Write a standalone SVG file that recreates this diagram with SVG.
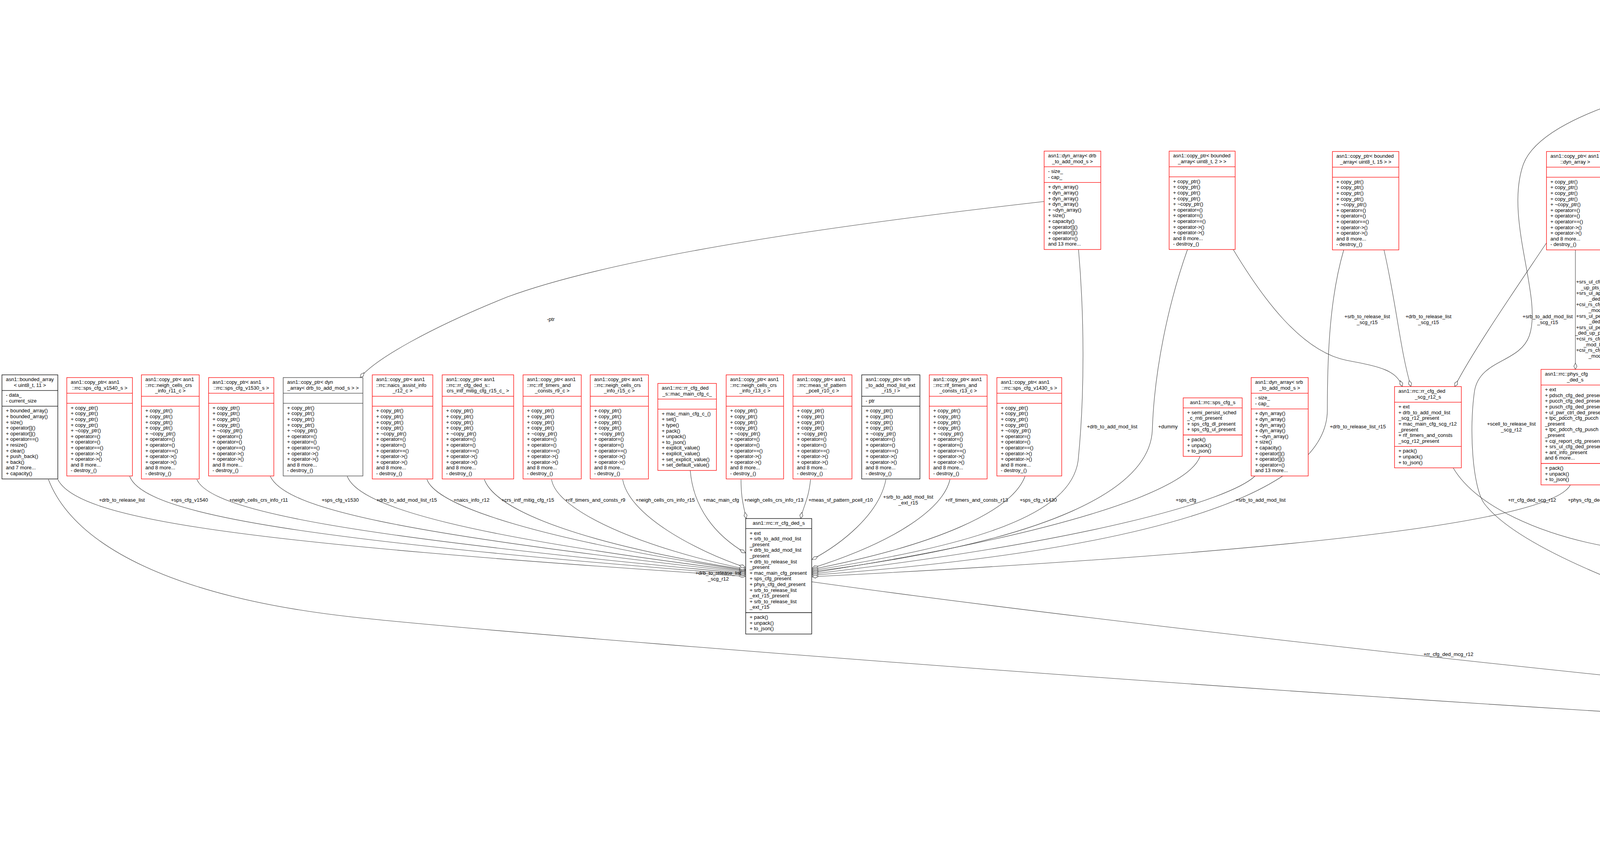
<svg xmlns="http://www.w3.org/2000/svg" width="7760" height="2159" viewBox="0 0 7760 2159">
<style>
text{font-family:"Liberation Sans",Arial,Helvetica,sans-serif;font-size:13px;fill:#000}
.nd rect{fill:#fff;stroke-width:1.3}
.nd path{fill:none;stroke-width:1.3}
.r rect,.r path{stroke:#f00}
.k rect,.k path{stroke:#000}
.g rect,.g path{stroke:#404040}
.f rect{fill:#bfbfbf}
.c{text-anchor:middle}
.e path{fill:none;stroke:#404040;stroke-width:1.1;marker-end:url(#d)}
.e text{text-anchor:middle}
.e text.s{text-anchor:start}
</style>
<defs>
<marker id="d" markerUnits="userSpaceOnUse" markerWidth="18" markerHeight="12" viewBox="0 0 18 12" refX="17" refY="6" orient="auto"><path d="M1,6 L9,2 L17,6 L9,10 Z" fill="#fff" stroke="#404040" stroke-width="1.1"/></marker>
</defs>
<rect width="7760" height="2159" fill="#fff"/>

<g id="edges" class="e">
<path d="M148,1228 C200,1330 600,1390 1908,1476"/>
<path d="M332,1220 C370,1320 800,1385 1908,1472"/>
<path d="M504,1228 C540,1310 900,1375 1908,1469"/>
<path d="M692,1220 C730,1300 1000,1365 1908,1466"/>
<path d="M889,1220 C920,1300 1200,1375 1908,1463"/>
<path d="M1093,1228 C1120,1300 1400,1385 1908,1461"/>
<path d="M1240,1228 C1270,1310 1500,1395 1908,1459"/>
<path d="M1412,1228 C1425,1310 1650,1405 1908,1457"/>
<path d="M1594,1228 C1610,1320 1780,1410 1908,1453"/>
<path d="M1767,1205 C1775,1300 1830,1370 1908,1416"/>
<path d="M1897,1228 C1897,1280 1905,1300 1910,1328"/>
<path d="M2075,1228 C2070,1280 2055,1300 2050,1328"/>
<path d="M2268,1228 C2250,1320 2150,1395 2079,1433"/>
<path d="M2432,1228 C2415,1300 2300,1385 2079,1455"/>
<path d="M2624,1220 C2590,1310 2400,1395 2079,1458"/>
<path d="M2761,639 C2775,800 2778,1000 2760,1180 C2740,1320 2500,1395 2079,1461"/>
<path d="M3040,639 C2990,780 2955,950 2950,1100 C2945,1250 2700,1385 2079,1464"/>
<path d="M3072,1169 C3040,1260 2700,1370 2079,1467"/>
<path d="M3213,1219 C3150,1280 2800,1385 2079,1470"/>
<path d="M3440,640 C3405,760 3398,900 3398,1050 C3398,1250 3000,1405 2079,1473"/>
<path d="M4020,1242 C3980,1320 3500,1405 2079,1477"/>
<path d="M2673,516 C2200,570 1600,650 1300,760 C1100,840 960,920 922,967"/>
<path d="M3157,639 C3230,760 3330,900 3448,923 C3540,940 3575,950 3590,990"/>
<path d="M3543,640 C3575,780 3585,900 3612,990"/>
<path d="M3959,622 C3880,740 3770,900 3724,990"/>
<path d="M4033,640 L4033,946"/>
<path d="M4770,570 C4600,680 4300,850 4121,955"/>
<path d="M3720,1198 C3780,1300 3950,1370 4115,1400 C4400,1440 4700,1462 4979,1470"/>
<path d="M4926,265 C4960,330 4975,400 4975,500 C4975,650 4950,800 4780,888 C4680,935 4300,900 4215,930 C4160,950 4150,1050 4160,1120 C4170,1230 4250,1320 4364,1347 C4500,1390 4800,1425 4979,1440"/>
<path d="M4106,539 C4400,680 4650,850 4720,950 C4780,1050 4760,1200 4800,1270 C4850,1350 4930,1400 4979,1425"/>
<path d="M4270,1227 C4300,1330 4500,1405 4979,1450"/>
<path d="M4442,1212 C4460,1320 4650,1410 4979,1457"/>
<path d="M4618,1227 C4640,1320 4780,1425 4979,1463"/>
<path d="M4982,1227 C4985,1270 4990,1300 4995,1327"/>
<path d="M5147,1227 C5140,1270 5128,1300 5123,1327"/>
<path d="M4867,640 C4880,780 4940,900 5008,923 C5100,945 5230,920 5270,960 C5310,1010 5295,1200 5267,1280 C5240,1360 5200,1395 5166,1410"/>
<path d="M5476,1220 C5430,1300 5300,1390 5166,1419"/>
<path d="M5695,1198 C5620,1290 5400,1395 5166,1427"/>
<path d="M5889,1220 C5800,1310 5500,1415 5166,1441"/>
<path d="M6063,1220 C5980,1300 5600,1435 5166,1465"/>
<path d="M2078,1490 C3000,1620 5200,1860 6385,1928"/>
<path d="M124,1228 C190,1400 450,1530 900,1580 C1350,1630 4500,1880 6385,1935"/>
<path d="M4784,145 C4300,190 3950,290 3900,420 C3850,560 3950,760 3915,860 C3890,930 3790,920 3775,1000 C3760,1100 3770,1250 3800,1290 C3900,1420 4300,1560 4680,1669 C5300,1830 6000,1900 6385,1915"/>
<path d="M5165,1507 C5600,1650 6000,1800 6385,1902"/>
<path d="M6091,1220 C6060,1380 6080,1650 6200,1760 C6260,1820 6320,1870 6385,1887"/>
<path d="M6489,1227 L6485,1724"/>
<path d="M6675,1220 C6670,1450 6630,1650 6581,1761"/>
<path d="M6364,1630 C6372,1670 6380,1700 6385,1724"/>
<path d="M6882,1551 C6800,1700 6700,1790 6581,1854"/>
<path d="M7060,1587 C6950,1760 6800,1850 6581,1898"/>
<path d="M7210,1625 C7100,1750 6850,1870 6581,1911"/>
<path d="M7214,1625 C7110,1757 6860,1880 6581,1916"/>
<path d="M7420,1602 C7250,1760 6900,1880 6581,1922"/>
<path d="M7626,1565 C7450,1720 7000,1870 6581,1935"/>
<path d="M6245,647 C6235,900 6250,1150 6285,1320"/>
<path d="M6410,1227 C6360,1245 6320,1270 6305,1320"/>
<path d="M6606,1220 C6530,1270 6470,1300 6435,1334"/>
<path d="M4855,272 L4855,388"/>
<path d="M6086,691 L6111,968"/>
<path d="M6225,647 C6190,850 6150,920 6073,937 C5900,945 5700,930 5632,968"/>
<path d="M6682,618 L6682,968"/>
<path d="M7024,1139 L7077,1364"/>
<path d="M7185,1198 L7143,1364"/>

<text x="312" y="1285">+drb_to_release_list</text>
<text x="485" y="1285">+sps_cfg_v1540</text>
<text x="662" y="1285">+neigh_cells_crs_info_r11</text>
<text x="871" y="1285">+sps_cfg_v1530</text>
<text x="1041" y="1285">+drb_to_add_mod_list_r15</text>
<text x="1207" y="1285">+naics_info_r12</text>
<text x="1351" y="1285">+crs_intf_mitig_cfg_r15</text>
<text x="1524" y="1285">+rlf_timers_and_consts_r9</text>
<text x="1703" y="1285">+neigh_cells_crs_info_r15</text>
<text x="1846" y="1285">+mac_main_cfg</text>
<text x="1981" y="1285">+neigh_cells_crs_info_r13</text>
<text x="2152" y="1285">+meas_sf_pattern_pcell_r10</text>
<text x="2325" y="1277"><tspan x="2325">+srb_to_add_mod_list</tspan><tspan x="2325" dy="14.6">_ext_r15</tspan></text>
<text x="2500" y="1285">+rlf_timers_and_consts_r13</text>
<text x="2658" y="1285">+sps_cfg_v1430</text>
<text x="2847" y="1097">+drb_to_add_mod_list</text>
<text x="2990" y="1097">+dummy</text>
<text x="3036" y="1285">+sps_cfg</text>
<text x="3227" y="1285">+srb_to_add_mod_list</text>
<text x="3476" y="1097">+drb_to_release_list_r15</text>
<text x="1839" y="1472"><tspan x="1839">+drb_to_release_list</tspan><tspan x="1839" dy="14.6">_scg_r12</tspan></text>
<text x="3500" y="815"><tspan x="3500">+srb_to_release_list</tspan><tspan x="3500" dy="14.6">_scg_r15</tspan></text>
<text x="3657" y="815"><tspan x="3657">+drb_to_release_list</tspan><tspan x="3657" dy="14.6">_scg_r15</tspan></text>
<text x="3962" y="815"><tspan x="3962">+srb_to_add_mod_list</tspan><tspan x="3962" dy="14.6">_scg_r15</tspan></text>
<text class="s" x="4035" y="726">+srs_ul_cfg_ded_ap</text>
<text x="4107" y="740.6">_up_pts_ext_list_r14</text>
<text class="s" x="4035" y="755.2">+srs_ul_aperiodic_cfg</text>
<text x="4107" y="769.8">_ded_list_r14</text>
<text class="s" x="4035" y="784.4">+csi_rs_cfg_nzp_to_add</text>
<text x="4107" y="799">_mod_list_r11</text>
<text class="s" x="4035" y="813.6">+srs_ul_periodic_cfg</text>
<text x="4107" y="828.2">_ded_list_r14</text>
<text class="s" x="4035" y="842.8">+srs_ul_periodic_cfg</text>
<text x="4107" y="857.4">_ded_up_pts_ext_list_r14</text>
<text class="s" x="4035" y="872">+csi_rs_cfg_nzp_to_add</text>
<text x="4107" y="886.6">_mod_list_ext_r13</text>
<text class="s" x="4035" y="901.2">+csi_rs_cfg_zp_to_add</text>
<text x="4107" y="915.8">_mod_list_r11</text>
<text x="4619" y="815"><tspan x="4619">+csi_rs_cfg_zp_to_release</tspan><tspan x="4619" dy="14.6">_list_r11</tspan></text>
<text x="5007" y="815"><tspan x="5007">+scell_to_release_list</tspan><tspan x="5007" dy="14.6">_scg_r12</tspan></text>
<text x="4868" y="308">-ptr</text>
<text x="6129" y="821">-data_</text>
<text x="6219" y="821">-ptr</text>
<text x="6704" y="821">-data_</text>
<text x="1410" y="822">-ptr</text>
<text x="3869" y="1090"><tspan x="3869">+scell_to_release_list</tspan><tspan x="3869" dy="14.6">_scg_r12</tspan></text>
<text x="3922" y="1285">+rr_cfg_ded_scg_r12</text>
<text x="4058" y="1285">+phys_cfg_ded</text>
<text x="4387" y="1277"><tspan x="4387">+pscell_to_add_mod</tspan><tspan x="4387" dy="14.6">_v1440</tspan></text>
<text x="4547" y="1285">+pscell_to_add_mod_r12</text>
<text x="4704" y="1277"><tspan x="4704">+tdm_pattern_cfg_ne</tspan><tspan x="4704" dy="14.6">_dc_r15</tspan></text>
<text x="3708" y="1680">+rr_cfg_ded_mcg_r12</text>
<text x="4846" y="1090"><tspan x="4846">+scell_to_add_mod_list</tspan><tspan x="4846" dy="14.6">_scg_ext_v1370</tspan></text>
<text x="5375" y="1090"><tspan x="5375">+scell_group_to_release</tspan><tspan x="5375" dy="14.6">_list_scg_r15</tspan></text>
<text x="5061" y="1277"><tspan x="5061">+scell_to_add_mod_list</tspan><tspan x="5061" dy="14.6">_scg_ext_r13</tspan></text>
<text x="5202" y="1277"><tspan x="5202">+scell_group_to_add</tspan><tspan x="5202" dy="14.6">_mod_list_scg_r15</tspan></text>
<text x="5486" y="1277"><tspan x="5486">+scell_to_release_list</tspan><tspan x="5486" dy="14.6">_scg_ext_r13</tspan></text>
<text x="5687" y="1285">+mob_ctrl_info_scg_r12</text>
<text x="5846" y="1285">+meas_cfg_sn_r15</text>
<text x="6006" y="1277"><tspan x="6006">+scell_to_add_mod_list</tspan><tspan x="6006" dy="14.6">_scg_r12</tspan></text>
<text x="5798" y="1680">+scg_radio_cfg_r12</text>
<text x="6178" y="1472"><tspan x="6178">+scell_to_add_mod_list</tspan><tspan x="6178" dy="14.6">_mcg_r12</tspan></text>
<text x="6336" y="1090"><tspan x="6336">+scell_to_release_list</tspan><tspan x="6336" dy="14.6">_scg_ext_r13</tspan></text>
<text x="6395" y="1277"><tspan x="6395">+meas_result_serv_cell</tspan><tspan x="6395" dy="14.6">_list_scg_ext_r13</tspan></text>
<text x="6602" y="1277"><tspan x="6602">+scell_to_add_mod_list</tspan><tspan x="6602" dy="14.6">_scg_ext_r13</tspan></text>
<text x="6560" y="1472"><tspan x="6560">+meas_result_serv_cell</tspan><tspan x="6560" dy="14.6">_list_scg_r12</tspan></text>
<text x="6740" y="1472"><tspan x="6740">+scell_to_add_mod_list</tspan><tspan x="6740" dy="14.6">_scg_r12</tspan></text>
<text x="6424" y="1680">+non_crit_ext</text>
<text x="6879" y="1680">+pwr_coordination_info_r12</text>
<text x="7069" y="1680">+meas_gap_cfg_r12</text>
<text x="7248" y="1666"><tspan x="7248">+mbms_interest_ind</tspan><tspan x="7248" dy="14.6">_r12</tspan><tspan x="7248" dy="14.6">+eutra_cap_info_r12</tspan></text>
<text x="7443" y="1674"><tspan x="7443">+drb_to_add_mod_list</tspan><tspan x="7443" dy="14.6">_scg_r12</tspan></text>
<text x="7644" y="1680">+scg_cfg_restrict_info_r12</text>
<text x="7071" y="1285">-c</text>
<text x="7187" y="1285">-type_</text>
</g>

<g id="n_ba11" class="nd k" transform="translate(5,960)"><rect width="143" height="266.6"/><path d="M0,40.2H143M0,80.4H143"/><text x="10" y="16">asn1::bounded_array</text><text class="c" x="71.5" y="30.6">&lt; uint8_t, 11 &gt;</text><text x="10" y="56.2"><tspan x="10">- data_</tspan><tspan x="10" dy="14.6">- current_size</tspan></text><text x="10" y="96.4"><tspan x="10">+ bounded_array()</tspan><tspan x="10" dy="14.6">+ bounded_array()</tspan><tspan x="10" dy="14.6">+ size()</tspan><tspan x="10" dy="14.6">+ operator[]()</tspan><tspan x="10" dy="14.6">+ operator[]()</tspan><tspan x="10" dy="14.6">+ operator==()</tspan><tspan x="10" dy="14.6">+ resize()</tspan><tspan x="10" dy="14.6">+ clear()</tspan><tspan x="10" dy="14.6">+ push_back()</tspan><tspan x="10" dy="14.6">+ back()</tspan><tspan x="10" dy="14.6">and 7 more...</tspan><tspan x="10" dy="14.6">+ capacity()</tspan></text></g>

<g id="n_cp_sps1540" class="nd r" transform="translate(171,967)"><rect width="168" height="252"/><path d="M0,40.2H168M0,65.8H168"/><text x="10" y="16">asn1::copy_ptr&lt; asn1</text><text class="c" x="84" y="30.6">::rrc::sps_cfg_v1540_s &gt;</text><text x="10" y="81.8"><tspan x="10">+ copy_ptr()</tspan><tspan x="10" dy="14.6">+ copy_ptr()</tspan><tspan x="10" dy="14.6">+ copy_ptr()</tspan><tspan x="10" dy="14.6">+ copy_ptr()</tspan><tspan x="10" dy="14.6">+ ~copy_ptr()</tspan><tspan x="10" dy="14.6">+ operator=()</tspan><tspan x="10" dy="14.6">+ operator=()</tspan><tspan x="10" dy="14.6">+ operator==()</tspan><tspan x="10" dy="14.6">+ operator-&gt;()</tspan><tspan x="10" dy="14.6">+ operator-&gt;()</tspan><tspan x="10" dy="14.6">and 8 more...</tspan><tspan x="10" dy="14.6">- destroy_()</tspan></text></g>

<g id="n_cp_neigh11" class="nd r" transform="translate(362,960)"><rect width="148" height="266.6"/><path d="M0,54.8H148M0,80.4H148"/><text x="10" y="16">asn1::copy_ptr&lt; asn1</text><text x="10" y="30.6">::rrc::neigh_cells_crs</text><text class="c" x="74" y="45.2">_info_r11_c &gt;</text><text x="10" y="96.4"><tspan x="10">+ copy_ptr()</tspan><tspan x="10" dy="14.6">+ copy_ptr()</tspan><tspan x="10" dy="14.6">+ copy_ptr()</tspan><tspan x="10" dy="14.6">+ copy_ptr()</tspan><tspan x="10" dy="14.6">+ ~copy_ptr()</tspan><tspan x="10" dy="14.6">+ operator=()</tspan><tspan x="10" dy="14.6">+ operator=()</tspan><tspan x="10" dy="14.6">+ operator==()</tspan><tspan x="10" dy="14.6">+ operator-&gt;()</tspan><tspan x="10" dy="14.6">+ operator-&gt;()</tspan><tspan x="10" dy="14.6">and 8 more...</tspan><tspan x="10" dy="14.6">- destroy_()</tspan></text></g>

<g id="n_cp_sps1530" class="nd r" transform="translate(534,967)"><rect width="167" height="252"/><path d="M0,40.2H167M0,65.8H167"/><text x="10" y="16">asn1::copy_ptr&lt; asn1</text><text class="c" x="83.5" y="30.6">::rrc::sps_cfg_v1530_s &gt;</text><text x="10" y="81.8"><tspan x="10">+ copy_ptr()</tspan><tspan x="10" dy="14.6">+ copy_ptr()</tspan><tspan x="10" dy="14.6">+ copy_ptr()</tspan><tspan x="10" dy="14.6">+ copy_ptr()</tspan><tspan x="10" dy="14.6">+ ~copy_ptr()</tspan><tspan x="10" dy="14.6">+ operator=()</tspan><tspan x="10" dy="14.6">+ operator=()</tspan><tspan x="10" dy="14.6">+ operator==()</tspan><tspan x="10" dy="14.6">+ operator-&gt;()</tspan><tspan x="10" dy="14.6">+ operator-&gt;()</tspan><tspan x="10" dy="14.6">and 8 more...</tspan><tspan x="10" dy="14.6">- destroy_()</tspan></text></g>

<g id="n_cp_dyn_drb" class="nd g" transform="translate(725,967)"><rect width="204" height="252"/><path d="M0,40.2H204M0,65.8H204"/><text x="10" y="16">asn1::copy_ptr&lt; dyn</text><text class="c" x="102" y="30.6">_array&lt; drb_to_add_mod_s &gt; &gt;</text><text x="10" y="81.8"><tspan x="10">+ copy_ptr()</tspan><tspan x="10" dy="14.6">+ copy_ptr()</tspan><tspan x="10" dy="14.6">+ copy_ptr()</tspan><tspan x="10" dy="14.6">+ copy_ptr()</tspan><tspan x="10" dy="14.6">+ ~copy_ptr()</tspan><tspan x="10" dy="14.6">+ operator=()</tspan><tspan x="10" dy="14.6">+ operator=()</tspan><tspan x="10" dy="14.6">+ operator==()</tspan><tspan x="10" dy="14.6">+ operator-&gt;()</tspan><tspan x="10" dy="14.6">+ operator-&gt;()</tspan><tspan x="10" dy="14.6">and 8 more...</tspan><tspan x="10" dy="14.6">- destroy_()</tspan></text></g>

<g id="n_cp_naics" class="nd r" transform="translate(953,960)"><rect width="155" height="266.6"/><path d="M0,54.8H155M0,80.4H155"/><text x="10" y="16">asn1::copy_ptr&lt; asn1</text><text x="10" y="30.6">::rrc::naics_assist_info</text><text class="c" x="77.5" y="45.2">_r12_c &gt;</text><text x="10" y="96.4"><tspan x="10">+ copy_ptr()</tspan><tspan x="10" dy="14.6">+ copy_ptr()</tspan><tspan x="10" dy="14.6">+ copy_ptr()</tspan><tspan x="10" dy="14.6">+ copy_ptr()</tspan><tspan x="10" dy="14.6">+ ~copy_ptr()</tspan><tspan x="10" dy="14.6">+ operator=()</tspan><tspan x="10" dy="14.6">+ operator=()</tspan><tspan x="10" dy="14.6">+ operator==()</tspan><tspan x="10" dy="14.6">+ operator-&gt;()</tspan><tspan x="10" dy="14.6">+ operator-&gt;()</tspan><tspan x="10" dy="14.6">and 8 more...</tspan><tspan x="10" dy="14.6">- destroy_()</tspan></text></g>

<g id="n_cp_crs" class="nd r" transform="translate(1132,960)"><rect width="183" height="266.6"/><path d="M0,54.8H183M0,80.4H183"/><text x="10" y="16">asn1::copy_ptr&lt; asn1</text><text x="10" y="30.6">::rrc::rr_cfg_ded_s::</text><text class="c" x="91.5" y="45.2">crs_intf_mitig_cfg_r15_c_ &gt;</text><text x="10" y="96.4"><tspan x="10">+ copy_ptr()</tspan><tspan x="10" dy="14.6">+ copy_ptr()</tspan><tspan x="10" dy="14.6">+ copy_ptr()</tspan><tspan x="10" dy="14.6">+ copy_ptr()</tspan><tspan x="10" dy="14.6">+ ~copy_ptr()</tspan><tspan x="10" dy="14.6">+ operator=()</tspan><tspan x="10" dy="14.6">+ operator=()</tspan><tspan x="10" dy="14.6">+ operator==()</tspan><tspan x="10" dy="14.6">+ operator-&gt;()</tspan><tspan x="10" dy="14.6">+ operator-&gt;()</tspan><tspan x="10" dy="14.6">and 8 more...</tspan><tspan x="10" dy="14.6">- destroy_()</tspan></text></g>

<g id="n_cp_rlf9" class="nd r" transform="translate(1339,960)"><rect width="149" height="266.6"/><path d="M0,54.8H149M0,80.4H149"/><text x="10" y="16">asn1::copy_ptr&lt; asn1</text><text x="10" y="30.6">::rrc::rlf_timers_and</text><text class="c" x="74.5" y="45.2">_consts_r9_c &gt;</text><text x="10" y="96.4"><tspan x="10">+ copy_ptr()</tspan><tspan x="10" dy="14.6">+ copy_ptr()</tspan><tspan x="10" dy="14.6">+ copy_ptr()</tspan><tspan x="10" dy="14.6">+ copy_ptr()</tspan><tspan x="10" dy="14.6">+ ~copy_ptr()</tspan><tspan x="10" dy="14.6">+ operator=()</tspan><tspan x="10" dy="14.6">+ operator=()</tspan><tspan x="10" dy="14.6">+ operator==()</tspan><tspan x="10" dy="14.6">+ operator-&gt;()</tspan><tspan x="10" dy="14.6">+ operator-&gt;()</tspan><tspan x="10" dy="14.6">and 8 more...</tspan><tspan x="10" dy="14.6">- destroy_()</tspan></text></g>

<g id="n_cp_neigh15" class="nd r" transform="translate(1511,960)"><rect width="149" height="266.6"/><path d="M0,54.8H149M0,80.4H149"/><text x="10" y="16">asn1::copy_ptr&lt; asn1</text><text x="10" y="30.6">::rrc::neigh_cells_crs</text><text class="c" x="74.5" y="45.2">_info_r15_c &gt;</text><text x="10" y="96.4"><tspan x="10">+ copy_ptr()</tspan><tspan x="10" dy="14.6">+ copy_ptr()</tspan><tspan x="10" dy="14.6">+ copy_ptr()</tspan><tspan x="10" dy="14.6">+ copy_ptr()</tspan><tspan x="10" dy="14.6">+ ~copy_ptr()</tspan><tspan x="10" dy="14.6">+ operator=()</tspan><tspan x="10" dy="14.6">+ operator=()</tspan><tspan x="10" dy="14.6">+ operator==()</tspan><tspan x="10" dy="14.6">+ operator-&gt;()</tspan><tspan x="10" dy="14.6">+ operator-&gt;()</tspan><tspan x="10" dy="14.6">and 8 more...</tspan><tspan x="10" dy="14.6">- destroy_()</tspan></text></g>

<g id="n_mac_main_cfg" class="nd r" transform="translate(1684,982)"><rect width="150" height="222.8"/><path d="M0,40.2H150M0,65.8H150"/><text x="10" y="16">asn1::rrc::rr_cfg_ded</text><text class="c" x="75" y="30.6">_s::mac_main_cfg_c_</text><text x="10" y="81.8"><tspan x="10">+ mac_main_cfg_c_()</tspan><tspan x="10" dy="14.6">+ set()</tspan><tspan x="10" dy="14.6">+ type()</tspan><tspan x="10" dy="14.6">+ pack()</tspan><tspan x="10" dy="14.6">+ unpack()</tspan><tspan x="10" dy="14.6">+ to_json()</tspan><tspan x="10" dy="14.6">+ explicit_value()</tspan><tspan x="10" dy="14.6">+ explicit_value()</tspan><tspan x="10" dy="14.6">+ set_explicit_value()</tspan><tspan x="10" dy="14.6">+ set_default_value()</tspan></text></g>

<g id="n_cp_neigh13" class="nd r" transform="translate(1859,960)"><rect width="147" height="266.6"/><path d="M0,54.8H147M0,80.4H147"/><text x="10" y="16">asn1::copy_ptr&lt; asn1</text><text x="10" y="30.6">::rrc::neigh_cells_crs</text><text class="c" x="73.5" y="45.2">_info_r13_c &gt;</text><text x="10" y="96.4"><tspan x="10">+ copy_ptr()</tspan><tspan x="10" dy="14.6">+ copy_ptr()</tspan><tspan x="10" dy="14.6">+ copy_ptr()</tspan><tspan x="10" dy="14.6">+ copy_ptr()</tspan><tspan x="10" dy="14.6">+ ~copy_ptr()</tspan><tspan x="10" dy="14.6">+ operator=()</tspan><tspan x="10" dy="14.6">+ operator=()</tspan><tspan x="10" dy="14.6">+ operator==()</tspan><tspan x="10" dy="14.6">+ operator-&gt;()</tspan><tspan x="10" dy="14.6">+ operator-&gt;()</tspan><tspan x="10" dy="14.6">and 8 more...</tspan><tspan x="10" dy="14.6">- destroy_()</tspan></text></g>

<g id="n_cp_meas_sf" class="nd r" transform="translate(2030,960)"><rect width="151" height="266.6"/><path d="M0,54.8H151M0,80.4H151"/><text x="10" y="16">asn1::copy_ptr&lt; asn1</text><text x="10" y="30.6">::rrc::meas_sf_pattern</text><text class="c" x="75.5" y="45.2">_pcell_r10_c &gt;</text><text x="10" y="96.4"><tspan x="10">+ copy_ptr()</tspan><tspan x="10" dy="14.6">+ copy_ptr()</tspan><tspan x="10" dy="14.6">+ copy_ptr()</tspan><tspan x="10" dy="14.6">+ copy_ptr()</tspan><tspan x="10" dy="14.6">+ ~copy_ptr()</tspan><tspan x="10" dy="14.6">+ operator=()</tspan><tspan x="10" dy="14.6">+ operator=()</tspan><tspan x="10" dy="14.6">+ operator==()</tspan><tspan x="10" dy="14.6">+ operator-&gt;()</tspan><tspan x="10" dy="14.6">+ operator-&gt;()</tspan><tspan x="10" dy="14.6">and 8 more...</tspan><tspan x="10" dy="14.6">- destroy_()</tspan></text></g>

<g id="n_cp_srb_ext" class="nd k" transform="translate(2206,960)"><rect width="149" height="266.6"/><path d="M0,54.8H149M0,80.4H149"/><text x="10" y="16">asn1::copy_ptr&lt; srb</text><text x="10" y="30.6">_to_add_mod_list_ext</text><text class="c" x="74.5" y="45.2">_r15_l &gt;</text><text x="10" y="70.8">- ptr</text><text x="10" y="96.4"><tspan x="10">+ copy_ptr()</tspan><tspan x="10" dy="14.6">+ copy_ptr()</tspan><tspan x="10" dy="14.6">+ copy_ptr()</tspan><tspan x="10" dy="14.6">+ copy_ptr()</tspan><tspan x="10" dy="14.6">+ ~copy_ptr()</tspan><tspan x="10" dy="14.6">+ operator=()</tspan><tspan x="10" dy="14.6">+ operator=()</tspan><tspan x="10" dy="14.6">+ operator==()</tspan><tspan x="10" dy="14.6">+ operator-&gt;()</tspan><tspan x="10" dy="14.6">+ operator-&gt;()</tspan><tspan x="10" dy="14.6">and 8 more...</tspan><tspan x="10" dy="14.6">- destroy_()</tspan></text></g>

<g id="n_cp_rlf13" class="nd r" transform="translate(2379,960)"><rect width="148" height="266.6"/><path d="M0,54.8H148M0,80.4H148"/><text x="10" y="16">asn1::copy_ptr&lt; asn1</text><text x="10" y="30.6">::rrc::rlf_timers_and</text><text class="c" x="74" y="45.2">_consts_r13_c &gt;</text><text x="10" y="96.4"><tspan x="10">+ copy_ptr()</tspan><tspan x="10" dy="14.6">+ copy_ptr()</tspan><tspan x="10" dy="14.6">+ copy_ptr()</tspan><tspan x="10" dy="14.6">+ copy_ptr()</tspan><tspan x="10" dy="14.6">+ ~copy_ptr()</tspan><tspan x="10" dy="14.6">+ operator=()</tspan><tspan x="10" dy="14.6">+ operator=()</tspan><tspan x="10" dy="14.6">+ operator==()</tspan><tspan x="10" dy="14.6">+ operator-&gt;()</tspan><tspan x="10" dy="14.6">+ operator-&gt;()</tspan><tspan x="10" dy="14.6">and 8 more...</tspan><tspan x="10" dy="14.6">- destroy_()</tspan></text></g>

<g id="n_cp_sps1430" class="nd r" transform="translate(2552,967)"><rect width="166" height="252"/><path d="M0,40.2H166M0,65.8H166"/><text x="10" y="16">asn1::copy_ptr&lt; asn1</text><text class="c" x="83" y="30.6">::rrc::sps_cfg_v1430_s &gt;</text><text x="10" y="81.8"><tspan x="10">+ copy_ptr()</tspan><tspan x="10" dy="14.6">+ copy_ptr()</tspan><tspan x="10" dy="14.6">+ copy_ptr()</tspan><tspan x="10" dy="14.6">+ copy_ptr()</tspan><tspan x="10" dy="14.6">+ ~copy_ptr()</tspan><tspan x="10" dy="14.6">+ operator=()</tspan><tspan x="10" dy="14.6">+ operator=()</tspan><tspan x="10" dy="14.6">+ operator==()</tspan><tspan x="10" dy="14.6">+ operator-&gt;()</tspan><tspan x="10" dy="14.6">+ operator-&gt;()</tspan><tspan x="10" dy="14.6">and 8 more...</tspan><tspan x="10" dy="14.6">- destroy_()</tspan></text></g>

<g id="n_sps_cfg" class="nd r" transform="translate(3029,1019)"><rect width="151" height="149.8"/><path d="M0,25.6H151M0,95H151"/><text class="c" x="75.5" y="16">asn1::rrc::sps_cfg_s</text><text x="10" y="41.6"><tspan x="10">+ semi_persist_sched</tspan><tspan x="10" dy="14.6">_c_rnti_present</tspan><tspan x="10" dy="14.6">+ sps_cfg_dl_present</tspan><tspan x="10" dy="14.6">+ sps_cfg_ul_present</tspan></text><text x="10" y="111"><tspan x="10">+ pack()</tspan><tspan x="10" dy="14.6">+ unpack()</tspan><tspan x="10" dy="14.6">+ to_json()</tspan></text></g>

<g id="n_da_srb" class="nd r" transform="translate(3203,967)"><rect width="146" height="252"/><path d="M0,40.2H146M0,80.4H146"/><text x="10" y="16">asn1::dyn_array&lt; srb</text><text class="c" x="73" y="30.6">_to_add_mod_s &gt;</text><text x="10" y="56.2"><tspan x="10">- size_</tspan><tspan x="10" dy="14.6">- cap_</tspan></text><text x="10" y="96.4"><tspan x="10">+ dyn_array()</tspan><tspan x="10" dy="14.6">+ dyn_array()</tspan><tspan x="10" dy="14.6">+ dyn_array()</tspan><tspan x="10" dy="14.6">+ dyn_array()</tspan><tspan x="10" dy="14.6">+ ~dyn_array()</tspan><tspan x="10" dy="14.6">+ size()</tspan><tspan x="10" dy="14.6">+ capacity()</tspan><tspan x="10" dy="14.6">+ operator[]()</tspan><tspan x="10" dy="14.6">+ operator[]()</tspan><tspan x="10" dy="14.6">+ operator=()</tspan><tspan x="10" dy="14.6">and 13 more...</tspan></text></g>

<g id="n_rr_cfg_ded_scg" class="nd r" transform="translate(3570,990)"><rect width="171" height="208.2"/><path d="M0,40.2H171M0,153.4H171"/><text x="10" y="16">asn1::rrc::rr_cfg_ded</text><text class="c" x="85.5" y="30.6">_scg_r12_s</text><text x="10" y="56.2"><tspan x="10">+ ext</tspan><tspan x="10" dy="14.6">+ drb_to_add_mod_list</tspan><tspan x="10" dy="14.6">_scg_r12_present</tspan><tspan x="10" dy="14.6">+ mac_main_cfg_scg_r12</tspan><tspan x="10" dy="14.6">_present</tspan><tspan x="10" dy="14.6">+ rlf_timers_and_consts</tspan><tspan x="10" dy="14.6">_scg_r12_present</tspan></text><text x="10" y="169.4"><tspan x="10">+ pack()</tspan><tspan x="10" dy="14.6">+ unpack()</tspan><tspan x="10" dy="14.6">+ to_json()</tspan></text></g>

<g id="n_da_drb" class="nd r" transform="translate(2673,387)"><rect width="145" height="252"/><path d="M0,40.2H145M0,80.4H145"/><text x="10" y="16">asn1::dyn_array&lt; drb</text><text class="c" x="72.5" y="30.6">_to_add_mod_s &gt;</text><text x="10" y="56.2"><tspan x="10">- size_</tspan><tspan x="10" dy="14.6">- cap_</tspan></text><text x="10" y="96.4"><tspan x="10">+ dyn_array()</tspan><tspan x="10" dy="14.6">+ dyn_array()</tspan><tspan x="10" dy="14.6">+ dyn_array()</tspan><tspan x="10" dy="14.6">+ dyn_array()</tspan><tspan x="10" dy="14.6">+ ~dyn_array()</tspan><tspan x="10" dy="14.6">+ size()</tspan><tspan x="10" dy="14.6">+ capacity()</tspan><tspan x="10" dy="14.6">+ operator[]()</tspan><tspan x="10" dy="14.6">+ operator[]()</tspan><tspan x="10" dy="14.6">+ operator=()</tspan><tspan x="10" dy="14.6">and 13 more...</tspan></text></g>

<g id="n_cp_ba2" class="nd r" transform="translate(2993,387)"><rect width="169" height="252"/><path d="M0,40.2H169M0,65.8H169"/><text x="10" y="16">asn1::copy_ptr&lt; bounded</text><text class="c" x="84.5" y="30.6">_array&lt; uint8_t, 2 &gt; &gt;</text><text x="10" y="81.8"><tspan x="10">+ copy_ptr()</tspan><tspan x="10" dy="14.6">+ copy_ptr()</tspan><tspan x="10" dy="14.6">+ copy_ptr()</tspan><tspan x="10" dy="14.6">+ copy_ptr()</tspan><tspan x="10" dy="14.6">+ ~copy_ptr()</tspan><tspan x="10" dy="14.6">+ operator=()</tspan><tspan x="10" dy="14.6">+ operator=()</tspan><tspan x="10" dy="14.6">+ operator==()</tspan><tspan x="10" dy="14.6">+ operator-&gt;()</tspan><tspan x="10" dy="14.6">+ operator-&gt;()</tspan><tspan x="10" dy="14.6">and 8 more...</tspan><tspan x="10" dy="14.6">- destroy_()</tspan></text></g>

<g id="n_cp_ba15" class="nd r" transform="translate(3411,388)"><rect width="170" height="252"/><path d="M0,40.2H170M0,65.8H170"/><text x="10" y="16">asn1::copy_ptr&lt; bounded</text><text class="c" x="85" y="30.6">_array&lt; uint8_t, 15 &gt; &gt;</text><text x="10" y="81.8"><tspan x="10">+ copy_ptr()</tspan><tspan x="10" dy="14.6">+ copy_ptr()</tspan><tspan x="10" dy="14.6">+ copy_ptr()</tspan><tspan x="10" dy="14.6">+ copy_ptr()</tspan><tspan x="10" dy="14.6">+ ~copy_ptr()</tspan><tspan x="10" dy="14.6">+ operator=()</tspan><tspan x="10" dy="14.6">+ operator=()</tspan><tspan x="10" dy="14.6">+ operator==()</tspan><tspan x="10" dy="14.6">+ operator-&gt;()</tspan><tspan x="10" dy="14.6">+ operator-&gt;()</tspan><tspan x="10" dy="14.6">and 8 more...</tspan><tspan x="10" dy="14.6">- destroy_()</tspan></text></g>

<g id="n_cp_dyn" class="nd r" transform="translate(3959,388)"><rect width="147" height="252"/><path d="M0,40.2H147M0,65.8H147"/><text x="10" y="16">asn1::copy_ptr&lt; asn1</text><text class="c" x="73.5" y="30.6">::dyn_array &gt;</text><text x="10" y="81.8"><tspan x="10">+ copy_ptr()</tspan><tspan x="10" dy="14.6">+ copy_ptr()</tspan><tspan x="10" dy="14.6">+ copy_ptr()</tspan><tspan x="10" dy="14.6">+ copy_ptr()</tspan><tspan x="10" dy="14.6">+ ~copy_ptr()</tspan><tspan x="10" dy="14.6">+ operator=()</tspan><tspan x="10" dy="14.6">+ operator=()</tspan><tspan x="10" dy="14.6">+ operator==()</tspan><tspan x="10" dy="14.6">+ operator-&gt;()</tspan><tspan x="10" dy="14.6">+ operator-&gt;()</tspan><tspan x="10" dy="14.6">and 8 more...</tspan><tspan x="10" dy="14.6">- destroy_()</tspan></text></g>

<g id="n_phys_cfg_ded" class="nd r" transform="translate(3945,946)"><rect width="175" height="295.8"/><path d="M0,40.2H175M0,241H175"/><text x="10" y="16">asn1::rrc::phys_cfg</text><text class="c" x="87.5" y="30.6">_ded_s</text><text x="10" y="56.2"><tspan x="10">+ ext</tspan><tspan x="10" dy="14.6">+ pdsch_cfg_ded_present</tspan><tspan x="10" dy="14.6">+ pucch_cfg_ded_present</tspan><tspan x="10" dy="14.6">+ pusch_cfg_ded_present</tspan><tspan x="10" dy="14.6">+ ul_pwr_ctrl_ded_present</tspan><tspan x="10" dy="14.6">+ tpc_pdcch_cfg_pucch</tspan><tspan x="10" dy="14.6">_present</tspan><tspan x="10" dy="14.6">+ tpc_pdcch_cfg_pusch</tspan><tspan x="10" dy="14.6">_present</tspan><tspan x="10" dy="14.6">+ cqi_report_cfg_present</tspan><tspan x="10" dy="14.6">+ srs_ul_cfg_ded_present</tspan><tspan x="10" dy="14.6">+ ant_info_present</tspan><tspan x="10" dy="14.6">and 6 more...</tspan></text><text x="10" y="257"><tspan x="10">+ pack()</tspan><tspan x="10" dy="14.6">+ unpack()</tspan><tspan x="10" dy="14.6">+ to_json()</tspan></text></g>

<g id="n_cp_pscell1440" class="nd r" transform="translate(4197,961)"><rect width="146" height="266.6"/><path d="M0,54.8H146M0,80.4H146"/><text x="10" y="16">asn1::copy_ptr&lt; asn1</text><text x="10" y="30.6">::rrc::ps_cell_to_add</text><text class="c" x="73" y="45.2">_mod_v1440_s &gt;</text><text x="10" y="96.4"><tspan x="10">+ copy_ptr()</tspan><tspan x="10" dy="14.6">+ copy_ptr()</tspan><tspan x="10" dy="14.6">+ copy_ptr()</tspan><tspan x="10" dy="14.6">+ copy_ptr()</tspan><tspan x="10" dy="14.6">+ ~copy_ptr()</tspan><tspan x="10" dy="14.6">+ operator=()</tspan><tspan x="10" dy="14.6">+ operator=()</tspan><tspan x="10" dy="14.6">+ operator==()</tspan><tspan x="10" dy="14.6">+ operator-&gt;()</tspan><tspan x="10" dy="14.6">+ operator-&gt;()</tspan><tspan x="10" dy="14.6">and 8 more...</tspan><tspan x="10" dy="14.6">- destroy_()</tspan></text></g>

<g id="n_pscell_r12" class="nd r" transform="translate(4368,975)"><rect width="172" height="237.4"/><path d="M0,40.2H172M0,182.6H172"/><text x="10" y="16">asn1::rrc::ps_cell</text><text class="c" x="86" y="30.6">_to_add_mod_r12_s</text><text x="10" y="56.2"><tspan x="10">+ ext</tspan><tspan x="10" dy="14.6">+ cell_identif_r12_present</tspan><tspan x="10" dy="14.6">+ rr_cfg_common_ps_cell</tspan><tspan x="10" dy="14.6">_r12_present</tspan><tspan x="10" dy="14.6">+ rr_cfg_ded_ps_cell</tspan><tspan x="10" dy="14.6">_r12_present</tspan><tspan x="10" dy="14.6">+ scell_idx_r12</tspan><tspan x="10" dy="14.6">+ scell_idx_r13_present</tspan><tspan x="10" dy="14.6">+ scell_idx_r13</tspan></text><text x="10" y="198.6"><tspan x="10">+ pack()</tspan><tspan x="10" dy="14.6">+ unpack()</tspan><tspan x="10" dy="14.6">+ to_json()</tspan></text></g>

<g id="n_cp_tdm" class="nd r" transform="translate(4564,961)"><rect width="148" height="266.6"/><path d="M0,54.8H148M0,80.4H148"/><text x="10" y="16">asn1::copy_ptr&lt; asn1</text><text x="10" y="30.6">::rrc::tdm_pattern_cfg</text><text class="c" x="74" y="45.2">_r15_c &gt;</text><text x="10" y="96.4"><tspan x="10">+ copy_ptr()</tspan><tspan x="10" dy="14.6">+ copy_ptr()</tspan><tspan x="10" dy="14.6">+ copy_ptr()</tspan><tspan x="10" dy="14.6">+ copy_ptr()</tspan><tspan x="10" dy="14.6">+ ~copy_ptr()</tspan><tspan x="10" dy="14.6">+ operator=()</tspan><tspan x="10" dy="14.6">+ operator=()</tspan><tspan x="10" dy="14.6">+ operator==()</tspan><tspan x="10" dy="14.6">+ operator-&gt;()</tspan><tspan x="10" dy="14.6">+ operator-&gt;()</tspan><tspan x="10" dy="14.6">and 8 more...</tspan><tspan x="10" dy="14.6">- destroy_()</tspan></text></g>

<g id="n_ba4" class="nd k" transform="translate(4784,5)"><rect width="142" height="266.6"/><path d="M0,40.2H142M0,80.4H142"/><text x="10" y="16">asn1::bounded_array</text><text class="c" x="71" y="30.6">&lt; uint8_t, 4 &gt;</text><text x="10" y="56.2"><tspan x="10">- data_</tspan><tspan x="10" dy="14.6">- current_size</tspan></text><text x="10" y="96.4"><tspan x="10">+ bounded_array()</tspan><tspan x="10" dy="14.6">+ bounded_array()</tspan><tspan x="10" dy="14.6">+ size()</tspan><tspan x="10" dy="14.6">+ operator[]()</tspan><tspan x="10" dy="14.6">+ operator[]()</tspan><tspan x="10" dy="14.6">+ operator==()</tspan><tspan x="10" dy="14.6">+ resize()</tspan><tspan x="10" dy="14.6">+ clear()</tspan><tspan x="10" dy="14.6">+ push_back()</tspan><tspan x="10" dy="14.6">+ back()</tspan><tspan x="10" dy="14.6">and 7 more...</tspan><tspan x="10" dy="14.6">+ capacity()</tspan></text></g>

<g id="n_cp_ba4" class="nd g" transform="translate(4770,388)"><rect width="170" height="252"/><path d="M0,40.2H170M0,65.8H170"/><text x="10" y="16">asn1::copy_ptr&lt; bounded</text><text class="c" x="85" y="30.6">_array&lt; uint8_t, 4 &gt; &gt;</text><text x="10" y="81.8"><tspan x="10">+ copy_ptr()</tspan><tspan x="10" dy="14.6">+ copy_ptr()</tspan><tspan x="10" dy="14.6">+ copy_ptr()</tspan><tspan x="10" dy="14.6">+ copy_ptr()</tspan><tspan x="10" dy="14.6">+ ~copy_ptr()</tspan><tspan x="10" dy="14.6">+ operator=()</tspan><tspan x="10" dy="14.6">+ operator=()</tspan><tspan x="10" dy="14.6">+ operator==()</tspan><tspan x="10" dy="14.6">+ operator-&gt;()</tspan><tspan x="10" dy="14.6">+ operator-&gt;()</tspan><tspan x="10" dy="14.6">and 8 more...</tspan><tspan x="10" dy="14.6">- destroy_()</tspan></text></g>

<g id="n_cp_scell_ext13" class="nd r" transform="translate(4926,961)"><rect width="143" height="266.6"/><path d="M0,54.8H143M0,80.4H143"/><text x="10" y="16">asn1::copy_ptr&lt; dyn</text><text x="10" y="30.6">_array&lt; scell_to_add</text><text class="c" x="71.5" y="45.2">_mod_ext_r13_s &gt; &gt;</text><text x="10" y="96.4"><tspan x="10">+ copy_ptr()</tspan><tspan x="10" dy="14.6">+ copy_ptr()</tspan><tspan x="10" dy="14.6">+ copy_ptr()</tspan><tspan x="10" dy="14.6">+ copy_ptr()</tspan><tspan x="10" dy="14.6">+ ~copy_ptr()</tspan><tspan x="10" dy="14.6">+ operator=()</tspan><tspan x="10" dy="14.6">+ operator=()</tspan><tspan x="10" dy="14.6">+ operator==()</tspan><tspan x="10" dy="14.6">+ operator-&gt;()</tspan><tspan x="10" dy="14.6">+ operator-&gt;()</tspan><tspan x="10" dy="14.6">and 8 more...</tspan><tspan x="10" dy="14.6">- destroy_()</tspan></text></g>

<g id="n_cp_scell_group" class="nd r" transform="translate(5094,961)"><rect width="163" height="266.6"/><path d="M0,54.8H163M0,80.4H163"/><text x="10" y="16">asn1::copy_ptr&lt; dyn</text><text x="10" y="30.6">_array&lt; scell_group</text><text class="c" x="81.5" y="45.2">_to_add_mod_r15_s &gt; &gt;</text><text x="10" y="96.4"><tspan x="10">+ copy_ptr()</tspan><tspan x="10" dy="14.6">+ copy_ptr()</tspan><tspan x="10" dy="14.6">+ copy_ptr()</tspan><tspan x="10" dy="14.6">+ copy_ptr()</tspan><tspan x="10" dy="14.6">+ ~copy_ptr()</tspan><tspan x="10" dy="14.6">+ operator=()</tspan><tspan x="10" dy="14.6">+ operator=()</tspan><tspan x="10" dy="14.6">+ operator==()</tspan><tspan x="10" dy="14.6">+ operator-&gt;()</tspan><tspan x="10" dy="14.6">+ operator-&gt;()</tspan><tspan x="10" dy="14.6">and 8 more...</tspan><tspan x="10" dy="14.6">- destroy_()</tspan></text></g>

<g id="n_cp_ba31" class="nd g" transform="translate(5474,968)"><rect width="169" height="252"/><path d="M0,40.2H169M0,65.8H169"/><text x="10" y="16">asn1::copy_ptr&lt; bounded</text><text class="c" x="84.5" y="30.6">_array&lt; uint8_t, 31 &gt; &gt;</text><text x="10" y="81.8"><tspan x="10">+ copy_ptr()</tspan><tspan x="10" dy="14.6">+ copy_ptr()</tspan><tspan x="10" dy="14.6">+ copy_ptr()</tspan><tspan x="10" dy="14.6">+ copy_ptr()</tspan><tspan x="10" dy="14.6">+ ~copy_ptr()</tspan><tspan x="10" dy="14.6">+ operator=()</tspan><tspan x="10" dy="14.6">+ operator=()</tspan><tspan x="10" dy="14.6">+ operator==()</tspan><tspan x="10" dy="14.6">+ operator-&gt;()</tspan><tspan x="10" dy="14.6">+ operator-&gt;()</tspan><tspan x="10" dy="14.6">and 8 more...</tspan><tspan x="10" dy="14.6">- destroy_()</tspan></text></g>

<g id="n_mob_ctrl" class="nd r" transform="translate(5668,990)"><rect width="187" height="208.2"/><path d="M0,40.2H187M0,153.4H187"/><text x="10" y="16">asn1::rrc::mob_ctrl</text><text class="c" x="93.5" y="30.6">_info_scg_r12_s</text><text x="10" y="56.2"><tspan x="10">+ ext</tspan><tspan x="10" dy="14.6">+ ue_id_scg_r12_present</tspan><tspan x="10" dy="14.6">+ rach_cfg_ded_r12_present</tspan><tspan x="10" dy="14.6">+ ciphering_algorithm</tspan><tspan x="10" dy="14.6">_scg_r12_present</tspan><tspan x="10" dy="14.6">+ make_before_break_scg</tspan><tspan x="10" dy="14.6">_r14_present</tspan></text><text x="10" y="169.4"><tspan x="10">+ pack()</tspan><tspan x="10" dy="14.6">+ unpack()</tspan><tspan x="10" dy="14.6">+ to_json()</tspan></text></g>

<g id="n_cp_meas_cfg" class="nd r" transform="translate(5880,968)"><rect width="147" height="252"/><path d="M0,40.2H147M0,65.8H147"/><text x="10" y="16">asn1::copy_ptr&lt; asn1</text><text class="c" x="73.5" y="30.6">::rrc::meas_cfg_s &gt;</text><text x="10" y="81.8"><tspan x="10">+ copy_ptr()</tspan><tspan x="10" dy="14.6">+ copy_ptr()</tspan><tspan x="10" dy="14.6">+ copy_ptr()</tspan><tspan x="10" dy="14.6">+ copy_ptr()</tspan><tspan x="10" dy="14.6">+ ~copy_ptr()</tspan><tspan x="10" dy="14.6">+ operator=()</tspan><tspan x="10" dy="14.6">+ operator=()</tspan><tspan x="10" dy="14.6">+ operator==()</tspan><tspan x="10" dy="14.6">+ operator-&gt;()</tspan><tspan x="10" dy="14.6">+ operator-&gt;()</tspan><tspan x="10" dy="14.6">and 8 more...</tspan><tspan x="10" dy="14.6">- destroy_()</tspan></text></g>

<g id="n_da_scell10" class="nd g" transform="translate(6052,968)"><rect width="155" height="252"/><path d="M0,40.2H155M0,80.4H155"/><text x="10" y="16">asn1::dyn_array&lt; scell</text><text class="c" x="77.5" y="30.6">_to_add_mod_r10_s &gt;</text><text x="10" y="56.2"><tspan x="10">- size_</tspan><tspan x="10" dy="14.6">- cap_</tspan></text><text x="10" y="96.4"><tspan x="10">+ dyn_array()</tspan><tspan x="10" dy="14.6">+ dyn_array()</tspan><tspan x="10" dy="14.6">+ dyn_array()</tspan><tspan x="10" dy="14.6">+ dyn_array()</tspan><tspan x="10" dy="14.6">+ ~dyn_array()</tspan><tspan x="10" dy="14.6">+ size()</tspan><tspan x="10" dy="14.6">+ capacity()</tspan><tspan x="10" dy="14.6">+ operator[]()</tspan><tspan x="10" dy="14.6">+ operator[]()</tspan><tspan x="10" dy="14.6">+ operator=()</tspan><tspan x="10" dy="14.6">and 13 more...</tspan></text></g>

<g id="n_scell10" class="nd r" transform="translate(5989,337)"><rect width="172" height="354.2"/><path d="M0,40.2H172M0,270.2H172"/><text x="10" y="16">asn1::rrc::scell_to</text><text class="c" x="86" y="30.6">_add_mod_r10_s</text><text x="10" y="56.2"><tspan x="10">+ ext</tspan><tspan x="10" dy="14.6">+ cell_identif_r10_present</tspan><tspan x="10" dy="14.6">+ rr_cfg_common_scell</tspan><tspan x="10" dy="14.6">_r10_present</tspan><tspan x="10" dy="14.6">+ rr_cfg_ded_scell_r10</tspan><tspan x="10" dy="14.6">_present</tspan><tspan x="10" dy="14.6">+ scell_idx_r10</tspan><tspan x="10" dy="14.6">+ dl_carrier_freq_v1090</tspan><tspan x="10" dy="14.6">_present</tspan><tspan x="10" dy="14.6">+ dl_carrier_freq_v1090</tspan><tspan x="10" dy="14.6">+ srs_switch_from_serv</tspan><tspan x="10" dy="14.6">_cell_idx_r14_present</tspan><tspan x="10" dy="14.6">+ srs_switch_from_serv</tspan><tspan x="10" dy="14.6">_cell_idx_r14</tspan><tspan x="10" dy="14.6">+ scell_state_r15_present</tspan></text><text x="10" y="286.2"><tspan x="10">+ pack()</tspan><tspan x="10" dy="14.6">+ unpack()</tspan><tspan x="10" dy="14.6">+ to_json()</tspan><tspan x="10" dy="14.6">+ operator==()</tspan><tspan x="10" dy="14.6">+ operator!=()</tspan></text></g>

<g id="n_ba31" class="nd k" transform="translate(6185,380)"><rect width="141" height="266.6"/><path d="M0,40.2H141M0,80.4H141"/><text x="10" y="16">asn1::bounded_array</text><text class="c" x="70.5" y="30.6">&lt; uint8_t, 31 &gt;</text><text x="10" y="56.2"><tspan x="10">- data_</tspan><tspan x="10" dy="14.6">- current_size</tspan></text><text x="10" y="96.4"><tspan x="10">+ bounded_array()</tspan><tspan x="10" dy="14.6">+ bounded_array()</tspan><tspan x="10" dy="14.6">+ size()</tspan><tspan x="10" dy="14.6">+ operator[]()</tspan><tspan x="10" dy="14.6">+ operator[]()</tspan><tspan x="10" dy="14.6">+ operator==()</tspan><tspan x="10" dy="14.6">+ resize()</tspan><tspan x="10" dy="14.6">+ clear()</tspan><tspan x="10" dy="14.6">+ push_back()</tspan><tspan x="10" dy="14.6">+ back()</tspan><tspan x="10" dy="14.6">and 7 more...</tspan><tspan x="10" dy="14.6">+ capacity()</tspan></text></g>

<g id="n_cell12" class="nd r" transform="translate(6596,410)"><rect width="171" height="208.2"/><path d="M0,40.2H171M0,153.4H171"/><text x="10" y="16">asn1::rrc::cell_to</text><text class="c" x="85.5" y="30.6">_add_mod_r12_s</text><text x="10" y="56.2"><tspan x="10">+ ext</tspan><tspan x="10" dy="14.6">+ cell_identif_r12_present</tspan><tspan x="10" dy="14.6">+ meas_result_cell_to</tspan><tspan x="10" dy="14.6">_add_r12_present</tspan><tspan x="10" dy="14.6">+ scell_idx_r12</tspan><tspan x="10" dy="14.6">+ scell_idx_r13_present</tspan><tspan x="10" dy="14.6">+ scell_idx_r13</tspan></text><text x="10" y="169.4"><tspan x="10">+ pack()</tspan><tspan x="10" dy="14.6">+ unpack()</tspan><tspan x="10" dy="14.6">+ to_json()</tspan></text></g>

<g id="n_da_meas_result" class="nd r" transform="translate(6410,960)"><rect width="159" height="266.6"/><path d="M0,54.8H159M0,95H159"/><text x="10" y="16">asn1::dyn_array&lt; meas</text><text x="10" y="30.6">_result_serv_cell_scg</text><text class="c" x="79.5" y="45.2">_r12_s &gt;</text><text x="10" y="70.8"><tspan x="10">- size_</tspan><tspan x="10" dy="14.6">- cap_</tspan></text><text x="10" y="111"><tspan x="10">+ dyn_array()</tspan><tspan x="10" dy="14.6">+ dyn_array()</tspan><tspan x="10" dy="14.6">+ dyn_array()</tspan><tspan x="10" dy="14.6">+ dyn_array()</tspan><tspan x="10" dy="14.6">+ ~dyn_array()</tspan><tspan x="10" dy="14.6">+ size()</tspan><tspan x="10" dy="14.6">+ capacity()</tspan><tspan x="10" dy="14.6">+ operator[]()</tspan><tspan x="10" dy="14.6">+ operator[]()</tspan><tspan x="10" dy="14.6">+ operator=()</tspan><tspan x="10" dy="14.6">and 13 more...</tspan></text></g>

<g id="n_da_cell12" class="nd g" transform="translate(6606,968)"><rect width="151" height="252"/><path d="M0,40.2H151M0,80.4H151"/><text x="10" y="16">asn1::dyn_array&lt; cell</text><text class="c" x="75.5" y="30.6">_to_add_mod_r12_s &gt;</text><text x="10" y="56.2"><tspan x="10">- size_</tspan><tspan x="10" dy="14.6">- cap_</tspan></text><text x="10" y="96.4"><tspan x="10">+ dyn_array()</tspan><tspan x="10" dy="14.6">+ dyn_array()</tspan><tspan x="10" dy="14.6">+ dyn_array()</tspan><tspan x="10" dy="14.6">+ dyn_array()</tspan><tspan x="10" dy="14.6">+ ~dyn_array()</tspan><tspan x="10" dy="14.6">+ size()</tspan><tspan x="10" dy="14.6">+ capacity()</tspan><tspan x="10" dy="14.6">+ operator[]()</tspan><tspan x="10" dy="14.6">+ operator[]()</tspan><tspan x="10" dy="14.6">+ operator=()</tspan><tspan x="10" dy="14.6">and 13 more...</tspan></text></g>

<g id="n_meas_gap_setup" class="nd r" transform="translate(6942,1048)"><rect width="142" height="91.4"/><path d="M0,40.2H142M0,65.8H142"/><text x="10" y="16">asn1::rrc::meas_gap</text><text class="c" x="71" y="30.6">_cfg_c::setup_s_</text></g>

<g id="n_enumerated" class="nd r" transform="translate(7107,990)"><rect width="208" height="208.2"/><path d="M0,40.2H208M0,95H208"/><text x="10" y="16">asn1::enumerated&lt; EnumType,</text><text class="c" x="104" y="30.6">E, M &gt;</text><text x="10" y="56.2"><tspan x="10">+ nof_types</tspan><tspan x="10" dy="14.6">+ nof_exts</tspan><tspan x="10" dy="14.6">+ has_ext</tspan></text><text x="10" y="111"><tspan x="10">+ enumerated()</tspan><tspan x="10" dy="14.6">+ enumerated()</tspan><tspan x="10" dy="14.6">+ pack()</tspan><tspan x="10" dy="14.6">+ unpack()</tspan><tspan x="10" dy="14.6">+ operator=()</tspan><tspan x="10" dy="14.6">+ operator typename EnumType</tspan><tspan x="10" dy="14.6">::options()</tspan></text></g>

<g id="n_scg_v1310" class="nd r" transform="translate(6260,1320)"><rect width="174" height="310.4"/><path d="M0,40.2H174M0,211.8H174"/><text x="10" y="16">asn1::rrc::scg_cfg</text><text class="c" x="87" y="30.6">_info_v1310_ies_s</text><text x="10" y="56.2"><tspan x="10">+ meas_result_sstd_r13</tspan><tspan x="10" dy="14.6">_present</tspan><tspan x="10" dy="14.6">+ scell_to_add_mod_list</tspan><tspan x="10" dy="14.6">_mcg_ext_r13_present</tspan><tspan x="10" dy="14.6">+ meas_result_serv_cell</tspan><tspan x="10" dy="14.6">_list_scg_ext_r13_present</tspan><tspan x="10" dy="14.6">+ scell_to_add_mod_list</tspan><tspan x="10" dy="14.6">_scg_ext_r13_present</tspan><tspan x="10" dy="14.6">+ scell_to_release_list</tspan><tspan x="10" dy="14.6">_scg_ext_r13_present</tspan><tspan x="10" dy="14.6">+ non_crit_ext_present</tspan></text><text x="10" y="227.8"><tspan x="10">+ pack()</tspan><tspan x="10" dy="14.6">+ unpack()</tspan><tspan x="10" dy="14.6">+ to_json()</tspan><tspan x="10" dy="14.6">+ pack()</tspan><tspan x="10" dy="14.6">+ unpack()</tspan><tspan x="10" dy="14.6">+ to_json()</tspan></text></g>

<g id="n_pwr_coord" class="nd k" transform="translate(6839,1401)"><rect width="179" height="149.8"/><path d="M0,40.2H179M0,95H179"/><text x="10" y="16">asn1::rrc::pwr_coordination</text><text class="c" x="89.5" y="30.6">_info_r12_s</text><text x="10" y="56.2"><tspan x="10">+ p_menb_r12</tspan><tspan x="10" dy="14.6">+ p_senb_r12</tspan><tspan x="10" dy="14.6">+ pwr_ctrl_mode_r12</tspan></text><text x="10" y="111"><tspan x="10">+ pack()</tspan><tspan x="10" dy="14.6">+ unpack()</tspan><tspan x="10" dy="14.6">+ to_json()</tspan></text></g>

<g id="n_meas_gap_cfg" class="nd k" transform="translate(7042,1364)"><rect width="141" height="222.8"/><path d="M0,40.2H141M0,65.8H141"/><text x="10" y="16">asn1::rrc::meas_gap</text><text class="c" x="70.5" y="30.6">_cfg_c</text><text x="10" y="81.8"><tspan x="10">+ meas_gap_cfg_c()</tspan><tspan x="10" dy="14.6">+ set()</tspan><tspan x="10" dy="14.6">+ type()</tspan><tspan x="10" dy="14.6">+ pack()</tspan><tspan x="10" dy="14.6">+ unpack()</tspan><tspan x="10" dy="14.6">+ to_json()</tspan><tspan x="10" dy="14.6">+ setup()</tspan><tspan x="10" dy="14.6">+ setup()</tspan><tspan x="10" dy="14.6">+ set_release()</tspan><tspan x="10" dy="14.6">+ set_setup()</tspan></text></g>

<g id="n_octstring" class="nd r" transform="translate(7208,1327)"><rect width="178" height="295.8"/><path d="M0,40.2H178M0,65.8H178"/><text x="10" y="16">asn1::unbounded_octstring</text><text class="c" x="89" y="30.6">&lt; false &gt;</text><text x="10" y="56.2">+ aligned</text><text x="10" y="81.8"><tspan x="10">+ unbounded_octstring()</tspan><tspan x="10" dy="14.6">+ unbounded_octstring()</tspan><tspan x="10" dy="14.6">+ operator[]()</tspan><tspan x="10" dy="14.6">+ operator[]()</tspan><tspan x="10" dy="14.6">+ operator==()</tspan><tspan x="10" dy="14.6">+ resize()</tspan><tspan x="10" dy="14.6">+ size()</tspan><tspan x="10" dy="14.6">+ data()</tspan><tspan x="10" dy="14.6">+ data()</tspan><tspan x="10" dy="14.6">+ pack()</tspan><tspan x="10" dy="14.6">+ unpack()</tspan><tspan x="10" dy="14.6">+ to_string()</tspan><tspan x="10" dy="14.6">+ from_string()</tspan><tspan x="10" dy="14.6">+ to_number()</tspan><tspan x="10" dy="14.6">+ from_number()</tspan></text></g>

<g id="n_da_drb_info" class="nd r" transform="translate(7410,1350)"><rect width="146" height="252"/><path d="M0,40.2H146M0,80.4H146"/><text x="10" y="16">asn1::dyn_array&lt; drb</text><text class="c" x="73" y="30.6">_info_scg_r12_s &gt;</text><text x="10" y="56.2"><tspan x="10">- size_</tspan><tspan x="10" dy="14.6">- cap_</tspan></text><text x="10" y="96.4"><tspan x="10">+ dyn_array()</tspan><tspan x="10" dy="14.6">+ dyn_array()</tspan><tspan x="10" dy="14.6">+ dyn_array()</tspan><tspan x="10" dy="14.6">+ dyn_array()</tspan><tspan x="10" dy="14.6">+ ~dyn_array()</tspan><tspan x="10" dy="14.6">+ size()</tspan><tspan x="10" dy="14.6">+ capacity()</tspan><tspan x="10" dy="14.6">+ operator[]()</tspan><tspan x="10" dy="14.6">+ operator[]()</tspan><tspan x="10" dy="14.6">+ operator=()</tspan><tspan x="10" dy="14.6">and 13 more...</tspan></text></g>

<g id="n_restrict" class="nd k" transform="translate(7580,1386)"><rect width="175" height="179"/><path d="M0,40.2H175M0,80.4H175"/><text x="10" y="16">asn1::rrc::scg_cfg</text><text class="c" x="87.5" y="30.6">_restrict_info_r12_s</text><text x="10" y="56.2"><tspan x="10">+ max_sch_tb_bits_dl_r12</tspan><tspan x="10" dy="14.6">+ max_sch_tb_bits_ul_r12</tspan></text><text x="10" y="96.4"><tspan x="10">+ pack()</tspan><tspan x="10" dy="14.6">+ unpack()</tspan><tspan x="10" dy="14.6">+ to_json()</tspan><tspan x="10" dy="14.6">+ pack()</tspan><tspan x="10" dy="14.6">+ unpack()</tspan><tspan x="10" dy="14.6">+ to_json()</tspan></text></g>

<g id="n_scg_cfg_info_r12_ies" class="nd k f" transform="translate(6386,1724)"><rect width="194" height="427.2"/><path d="M0,40.2H194M0,328.6H194"/><text x="10" y="16">asn1::rrc::scg_cfg</text><text class="c" x="97" y="30.6">_info_r12_ies_s</text><text x="10" y="56.2"><tspan x="10">+ rr_cfg_ded_mcg_r12</tspan><tspan x="10" dy="14.6">_present</tspan><tspan x="10" dy="14.6">+ scell_to_add_mod_list</tspan><tspan x="10" dy="14.6">_mcg_r12_present</tspan><tspan x="10" dy="14.6">+ meas_gap_cfg_r12_present</tspan><tspan x="10" dy="14.6">+ pwr_coordination_info</tspan><tspan x="10" dy="14.6">_r12_present</tspan><tspan x="10" dy="14.6">+ scg_radio_cfg_r12_present</tspan><tspan x="10" dy="14.6">+ eutra_cap_info_r12</tspan><tspan x="10" dy="14.6">_present</tspan><tspan x="10" dy="14.6">+ scg_cfg_restrict_info</tspan><tspan x="10" dy="14.6">_r12_present</tspan><tspan x="10" dy="14.6">+ mbms_interest_ind_r12</tspan><tspan x="10" dy="14.6">_present</tspan><tspan x="10" dy="14.6">+ meas_result_serv_cell</tspan><tspan x="10" dy="14.6">_list_scg_r12_present</tspan><tspan x="10" dy="14.6">+ drb_to_add_mod_list</tspan><tspan x="10" dy="14.6">_scg_r12_present</tspan><tspan x="10" dy="14.6">and 6 more...</tspan></text><text x="10" y="344.6"><tspan x="10">+ pack()</tspan><tspan x="10" dy="14.6">+ unpack()</tspan><tspan x="10" dy="14.6">+ to_json()</tspan><tspan x="10" dy="14.6">+ pack()</tspan><tspan x="10" dy="14.6">+ unpack()</tspan><tspan x="10" dy="14.6">+ to_json()</tspan></text></g>

<g id="n_rr_cfg_ded" class="nd k" transform="translate(1909,1328)"><rect width="169" height="295.8"/><path d="M0,25.6H169M0,241H169"/><text class="c" x="84.5" y="16">asn1::rrc::rr_cfg_ded_s</text><text x="10" y="41.6"><tspan x="10">+ ext</tspan><tspan x="10" dy="14.6">+ srb_to_add_mod_list</tspan><tspan x="10" dy="14.6">_present</tspan><tspan x="10" dy="14.6">+ drb_to_add_mod_list</tspan><tspan x="10" dy="14.6">_present</tspan><tspan x="10" dy="14.6">+ drb_to_release_list</tspan><tspan x="10" dy="14.6">_present</tspan><tspan x="10" dy="14.6">+ mac_main_cfg_present</tspan><tspan x="10" dy="14.6">+ sps_cfg_present</tspan><tspan x="10" dy="14.6">+ phys_cfg_ded_present</tspan><tspan x="10" dy="14.6">+ srb_to_release_list</tspan><tspan x="10" dy="14.6">_ext_r15_present</tspan><tspan x="10" dy="14.6">+ srb_to_release_list</tspan><tspan x="10" dy="14.6">_ext_r15</tspan></text><text x="10" y="257"><tspan x="10">+ pack()</tspan><tspan x="10" dy="14.6">+ unpack()</tspan><tspan x="10" dy="14.6">+ to_json()</tspan></text></g>

<g id="n_scg_cfg_part" class="nd k" transform="translate(4980,1327)"><rect width="185" height="295.8"/><path d="M0,40.2H185M0,241H185"/><text x="10" y="16">asn1::rrc::scg_cfg</text><text class="c" x="92.5" y="30.6">_part_scg_r12_s</text><text x="10" y="56.2"><tspan x="10">+ ext</tspan><tspan x="10" dy="14.6">+ rr_cfg_ded_scg_r12</tspan><tspan x="10" dy="14.6">_present</tspan><tspan x="10" dy="14.6">+ scell_to_release_list</tspan><tspan x="10" dy="14.6">_scg_r12_present</tspan><tspan x="10" dy="14.6">+ pscell_to_add_mod_r12</tspan><tspan x="10" dy="14.6">_present</tspan><tspan x="10" dy="14.6">+ scell_to_add_mod_list</tspan><tspan x="10" dy="14.6">_scg_r12_present</tspan><tspan x="10" dy="14.6">+ mob_ctrl_info_scg_r12</tspan><tspan x="10" dy="14.6">_present</tspan><tspan x="10" dy="14.6">+ p_max_eutra_r15_present</tspan><tspan x="10" dy="14.6">+ p_max_eutra_r15</tspan></text><text x="10" y="257"><tspan x="10">+ pack()</tspan><tspan x="10" dy="14.6">+ unpack()</tspan><tspan x="10" dy="14.6">+ to_json()</tspan></text></g>
</svg>
